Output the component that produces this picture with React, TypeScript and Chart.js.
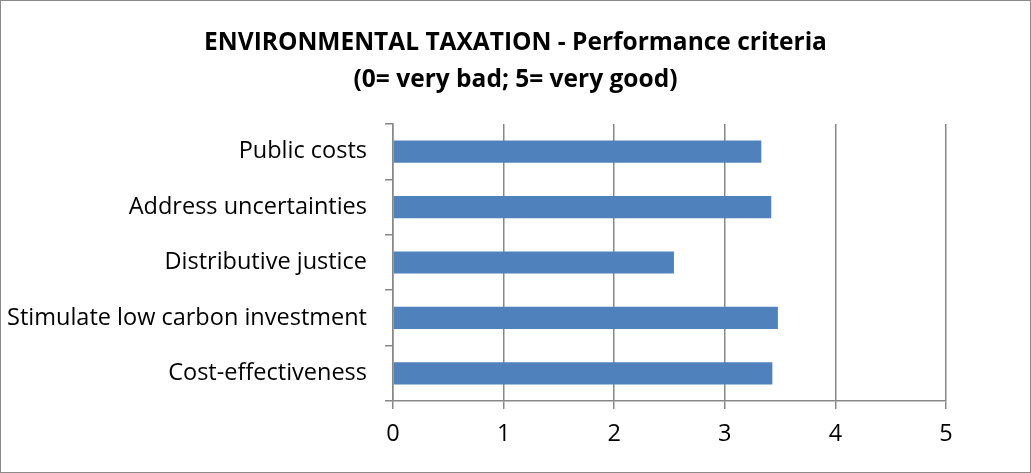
import React, { useEffect, useRef } from "react";
import { Chart, registerables } from "chart.js";

Chart.register(...registerables);

const titleLines = ["ENVIRONMENTAL TAXATION - Performance criteria", "(0= very bad; 5= very good)"];
const categories = [
  "Public costs",
  "Address uncertainties",
  "Distributive justice",
  "Stimulate low carbon investment",
  "Cost-effectiveness",
];
const scores = [3.33, 3.42, 2.54, 3.48, 3.43];
const xTicks = [0, 1, 2, 3, 4, 5];

const FONT = "'Open Sans', Lato, sans-serif";
const GRID = "#878787";

const frame = {
  id: "frame",
  beforeDraw(chart: any) {
    const { ctx, width, height } = chart;
    ctx.save();
    ctx.fillStyle = "#ffffff";
    ctx.fillRect(0, 0, width, height);
    ctx.strokeStyle = "#8a8a8a";
    ctx.lineWidth = 1;
    ctx.strokeRect(0.5, 0.5, width - 1, height - 1);
    ctx.restore();
  },
  afterDraw(chart: any) {
    const { ctx } = chart;
    ctx.save();
    ctx.fillStyle = "#000000";
    ctx.font = `bold 24.5px ${FONT}`;
    ctx.textAlign = "center";
    ctx.textBaseline = "alphabetic";
    ctx.fillText(titleLines[0], 515.5, 49.5);
    ctx.fillText(titleLines[1], 515.5, 87);
    ctx.restore();
  },
};

export default function App() {
  const ref = useRef<HTMLCanvasElement | null>(null);
  useEffect(() => {
    document.body.style.margin = "0";
    const chart = new Chart(ref.current as HTMLCanvasElement, {
      type: "bar",
      data: {
        labels: categories,
        datasets: [
          {
            data: scores,
            backgroundColor: "#4F81BD",
            borderWidth: 0,
            barPercentage: 0.4,
            categoryPercentage: 1,
          },
        ],
      },
      options: {
        indexAxis: "y",
        animation: false,
        responsive: false,
        layout: { padding: { left: 0, right: 85, top: 124, bottom: 0 } },
        plugins: {
          legend: { display: false },
          tooltip: { enabled: false },
          title: { display: false },
        },
        scales: {
          x: {
            min: 0,
            max: 5,
            afterBuildTicks(scale: any) {
              scale.ticks = xTicks.map((v) => ({ value: v }));
            },
            afterFit(scale: any) {
              scale.height = 72;
            },
            grid: {
              color: GRID,
              lineWidth: 1.5,
              tickLength: 8,
              drawTicks: true,
            },
            border: { color: GRID, width: 1.5 },
            ticks: {
              color: "#000000",
              font: { family: FONT, size: 23.5 },
              padding: 11,
            },
          },
          y: {
            afterFit(scale: any) {
              scale.width = 393;
            },
            grid: {
              display: true,
              drawOnChartArea: false,
              offset: true,
              color: GRID,
              lineWidth: 1.5,
              tickLength: 8,
            },
            border: { color: GRID, width: 1.5 },
            ticks: {
              color: "#000000",
              font: { family: FONT, size: 23.5 },
              padding: 18,
            },
          },
        },
      },
      plugins: [frame],
    });
    return () => chart.destroy();
  }, []);
  return <canvas ref={ref} width={1031} height={473} style={{ display: "block" }} />;
}
